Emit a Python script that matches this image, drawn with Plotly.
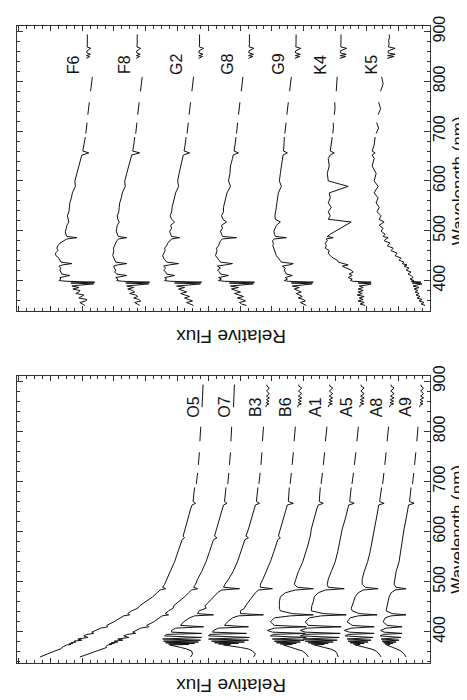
import plotly.graph_objects as go

# ---------------- data (wavelength in nm, flux in relative units) ----------------
WL_HOT = [350, 356, 362, 366, 369, 371, 373, 374, 375, 376, 377.1, 378.3, 379.8, 381.5, 383.5,
          385.8, 388.9, 392, 395, 397, 399.5, 403, 407.5, 410.2, 413, 420, 428, 432, 434, 436.5,
          442, 447.1, 452, 460, 470, 478, 483.5, 486.1, 489, 495, 505, 520, 540, 560, 575, 584,
          587.6, 591, 605, 625, 645, 653, 656.3, 660, 688]

WL_COOL = [350, 353, 356, 359, 362, 365, 368, 371, 374, 377, 380, 383, 386, 389, 391, 393.4, 395,
           396.8, 398.5, 400, 403, 406, 410.2, 413, 417, 421, 425, 429, 431.5, 434, 437, 441, 445,
           450, 455, 460, 465, 470, 475, 480, 483.5, 486.1, 488.5, 493, 499, 505, 511, 517.5, 523,
           530, 538, 547, 556, 566, 576, 589, 600, 615, 630, 645, 652, 656.3, 660, 672, 688]

WL_DASH = [[695, 706, 717], [733, 745, 758], [780, 795, 809]]

WL_RED_HOT = [848, 852, 854.5, 857, 860, 863, 866.5, 870, 875, 880, 886.3, 890, 893]
WL_RED_COOL = [846, 849.8, 851.5, 854.2, 857, 861, 866.2, 869, 875, 882, 888, 894]

# hot stars (lower panel)
O5_BLUE = [39.1, 38.4, 37.6, 37.0, 36.9, 36.7, 36.5, 36.4, 36.0, 36.2, 35.8, 36.0, 35.5, 35.7, 34.9,
           35.3, 34.3, 34.7, 34.4, 33.7, 33.9, 33.5, 33.0, 32.3, 32.4, 31.7, 31.0, 30.7, 30.1, 30.3,
           29.9, 29.3, 29.1, 28.5, 27.8, 27.35, 27.05, 26.5, 26.8, 26.6, 26.35, 26.05, 25.6, 25.25,
           25.0, 24.85, 24.6, 24.75, 24.55, 24.3, 24.0, 23.85, 23.5, 23.75, 23.6]
O7_BLUE = [35.1, 34.3, 33.5, 33.0, 32.4, 32.5, 32.3, 32.3, 31.9, 32.15, 31.65, 31.95, 31.3, 31.65, 30.8,
           31.3, 30.2, 30.7, 30.35, 29.5, 29.8, 29.5, 29.0, 28.2, 28.4, 27.7, 27.1, 26.85, 26.2, 26.55,
           26.2, 25.75, 25.7, 25.2, 24.6, 24.2, 23.9, 23.3, 23.7, 23.5, 23.3, 22.9, 22.45, 22.1, 21.85,
           21.7, 21.35, 21.6, 21.4, 21.1, 20.8, 20.7, 20.35, 20.6, 20.45]
B3_BLUE = [24.0, 23.8, 23.9, 24.4, 25.0, 25.4, 25.9, 26.1, 24.2, 26.2, 23.6, 26.5, 23.2, 26.7, 23.0,
           26.8, 22.9, 26.6, 26.4, 22.9, 25.9, 25.9, 25.5, 22.7, 25.0, 24.7, 24.1, 23.6, 21.7, 23.3,
           23.15, 22.45, 22.55, 22.15, 21.65, 21.3, 20.9, 19.1, 20.7, 20.55, 20.2, 19.75, 19.3, 18.95,
           18.7, 18.55, 18.2, 18.45, 18.2, 17.9, 17.6, 17.5, 17.1, 17.4, 17.25]
B6_BLUE = [17.7, 17.5, 17.8, 18.2, 19.0, 19.7, 20.4, 20.7, 20.0, 21.2, 19.2, 21.6, 18.6, 21.9, 18.2,
           22.2, 18.1, 22.2, 22.1, 18.4, 21.8, 21.7, 21.2, 18.2, 20.6, 20.3, 19.8, 19.2, 16.7, 19.0,
           19.0, 18.6, 18.5, 18.2, 17.85, 17.5, 17.2, 15.8, 17.0, 17.0, 16.75, 16.4, 16.0, 15.65,
           15.4, 15.25, 15.0, 15.2, 15.0, 14.7, 14.4, 14.3, 13.7, 14.2, 14.1]
A1_BLUE = [12.2, 12.4, 12.8, 13.4, 13.9, 14.2, 14.6, 14.7, 13.8, 15.0, 13.4, 15.4, 13.0, 15.6, 12.6,
           15.8, 12.4, 16.0, 15.7, 12.5, 15.8, 16.3, 15.6, 12.4, 15.6, 16.0, 15.6, 14.0, 11.7, 13.8,
           15.0, 15.1, 15.1, 15.1, 15.0, 14.5, 13.5, 11.7, 13.3, 13.6, 13.45, 13.2, 12.75, 12.4,
           12.2, 12.1, 12.05, 12.0, 11.9, 11.65, 11.35, 11.2, 10.7, 11.1, 11.0]
A5_BLUE = [9.2, 9.3, 9.5, 10.0, 10.6, 11.0, 11.4, 11.6, 10.6, 11.9, 10.2, 12.2, 9.7, 12.5, 9.3,
           12.7, 9.1, 13.0, 12.6, 9.0, 12.5, 13.0, 12.3, 8.9, 12.2, 12.5, 12.1, 10.9, 8.4, 10.7,
           11.9, 11.9, 11.85, 11.7, 11.6, 11.2, 10.5, 8.6, 10.2, 10.3, 10.2, 9.9, 9.5, 9.25,
           9.1, 9.0, 8.95, 8.9, 8.8, 8.5, 8.25, 8.15, 7.6, 8.05, 7.9]
A8_BLUE = [4.9, 5.1, 5.4, 5.9, 6.5, 6.9, 7.3, 7.5, 7.0, 7.7, 6.6, 8.0, 6.2, 8.2, 5.9,
           8.3, 5.7, 8.5, 8.2, 5.6, 8.1, 8.6, 7.9, 5.6, 7.8, 8.3, 8.0, 7.2, 5.3, 7.1,
           7.8, 7.9, 7.8, 7.65, 7.5, 7.2, 6.7, 5.2, 6.5, 6.8, 6.8, 6.6, 6.25, 6.0,
           5.85, 5.8, 5.75, 5.7, 5.6, 5.4, 5.2, 5.15, 4.6, 5.05, 4.85]
A9_BLUE = [2.4, 2.6, 2.9, 3.3, 3.7, 4.0, 4.25, 4.35, 4.0, 4.5, 3.7, 4.65, 3.4, 4.8, 3.1,
           4.9, 2.9, 5.0, 4.7, 2.8, 4.6, 4.95, 4.4, 2.8, 4.3, 4.7, 4.5, 3.9, 2.4, 3.8,
           4.4, 4.35, 4.3, 4.2, 4.1, 3.9, 3.5, 2.4, 3.4, 3.6, 3.55, 3.4, 3.1, 2.95,
           2.85, 2.8, 2.75, 2.7, 2.6, 2.4, 2.2, 2.15, 1.6, 2.05, 1.9]

O5_DASH = [23.42, 23.36, 23.3, 23.22, 23.17, 23.12, 23.07, 23.02, 22.98]
O7_DASH = [20.27, 20.22, 20.17, 20.1, 20.05, 20.0, 19.96, 19.92, 19.88]
B3_DASH = [17.15, 17.09, 17.03, 16.95, 16.9, 16.85, 16.8, 16.74, 16.69]
B6_DASH = [14.02, 13.96, 13.9, 13.82, 13.76, 13.7, 13.62, 13.56, 13.5]
A1_DASH = [10.92, 10.86, 10.78, 10.7, 10.63, 10.56, 10.48, 10.4, 10.33]
A5_DASH = [7.82, 7.74, 7.67, 7.58, 7.5, 7.43, 7.33, 7.25, 7.18]
A8_DASH = [4.75, 4.68, 4.62, 4.53, 4.47, 4.4, 4.3, 4.22, 4.15]
A9_DASH = [1.75, 1.69, 1.63, 1.55, 1.48, 1.42, 1.32, 1.25, 1.2]

O5_RED = [22.85, 22.84, 22.83, 22.82, 22.82, 22.81, 22.8, 22.79, 22.78, 22.77, 22.76, 22.75, 22.75]
O7_RED = [19.7, 19.7, 19.7, 19.68, 19.68, 19.66, 19.66, 19.65, 19.64, 19.63, 19.62, 19.6, 19.6]
B3_RED = [16.45, 16.42, 16.15, 16.42, 16.15, 16.4, 16.1, 16.4, 16.1, 16.38, 16.1, 16.35, 16.35]
B6_RED = [13.25, 13.22, 12.9, 13.22, 12.9, 13.2, 12.85, 13.2, 12.85, 13.18, 12.85, 13.15, 13.15]
A1_RED = [10.2, 10.15, 9.8, 10.15, 9.8, 10.12, 9.75, 10.1, 9.75, 10.08, 9.75, 10.05, 10.05]
A5_RED = [7.05, 7.0, 6.65, 7.0, 6.65, 6.98, 6.6, 6.95, 6.6, 6.93, 6.6, 6.9, 6.9]
A8_RED = [4.05, 4.0, 3.65, 4.0, 3.65, 3.98, 3.6, 3.95, 3.6, 3.93, 3.6, 3.9, 3.9]
A9_RED = [1.05, 1.0, 0.7, 1.0, 0.7, 0.98, 0.65, 0.95, 0.65, 0.93, 0.65, 0.9, 0.9]

# cool stars (upper panel)
F6_BLUE = [34.6, 34.9, 35.1, 34.5, 34.4, 35.2, 34.9, 34.7, 35.5, 35.2, 35.1, 35.8, 35.2, 35.9, 35.0,
           33.7, 36.0, 33.6, 36.4, 37.2, 37.0, 37.1, 36.1, 36.9, 37.0, 37.1, 37.0, 37.2, 36.8, 35.9,
           37.0, 37.1, 37.2, 37.5, 37.55, 37.3, 37.4, 37.3, 37.1, 36.7, 36.4, 35.4, 36.4, 36.5, 36.55,
           36.45, 36.4, 36.2, 36.3, 36.35, 36.2, 36.15, 36.1, 35.95, 35.85, 35.55, 35.6, 35.4, 35.2,
           35.0, 34.9, 34.2, 34.8, 34.7, 34.55]
F8_BLUE = [29.1, 29.4, 29.6, 29.0, 29.2, 29.7, 29.3, 29.5, 30.1, 29.6, 29.8, 30.3, 29.7, 30.4, 29.4,
           28.2, 30.5, 28.1, 30.8, 31.4, 31.3, 31.5, 30.4, 31.4, 31.6, 31.5, 31.65, 31.7, 31.3, 30.4,
           31.5, 31.6, 31.7, 31.8, 31.75, 31.7, 31.73, 31.6, 31.5, 31.4, 31.2, 30.4, 31.25, 31.35,
           31.45, 31.4, 31.35, 31.15, 31.3, 31.35, 31.2, 31.15, 31.1, 30.95, 30.85, 30.55, 30.6, 30.4,
           30.2, 30.0, 29.9, 29.1, 29.8, 29.7, 29.6]
G2_BLUE = [23.7, 24.1, 24.4, 23.8, 24.2, 24.6, 24.1, 24.5, 25.0, 24.4, 24.8, 25.2, 24.6, 25.4, 24.2,
           23.0, 25.6, 22.9, 26.0, 26.6, 26.4, 26.6, 25.6, 26.4, 26.5, 26.7, 26.5, 26.7, 26.1, 25.2,
           26.4, 26.6, 26.7, 26.8, 26.7, 26.55, 26.6, 26.4, 26.3, 26.1, 25.9, 25.1, 25.9, 26.0, 26.1,
           25.9, 26.0, 25.6, 25.9, 26.05, 25.9, 25.85, 25.75, 25.6, 25.5, 25.2, 25.3, 25.15, 25.0,
           24.8, 24.73, 24.1, 24.65, 24.55, 24.45]
G8_BLUE = [18.4, 18.9, 19.1, 18.5, 18.8, 19.3, 18.7, 19.2, 19.6, 19.0, 19.4, 19.9, 19.2, 20.0, 18.9,
           17.7, 20.1, 17.6, 20.6, 21.2, 20.9, 21.2, 20.2, 21.0, 21.1, 21.3, 21.0, 21.3, 20.5, 19.8,
           21.0, 21.2, 21.3, 21.5, 21.4, 21.35, 21.4, 21.2, 21.1, 21.0, 20.8, 19.4, 20.8, 20.9, 21.0,
           20.8, 20.9, 20.4, 20.75, 20.9, 20.7, 20.7, 20.6, 20.45, 20.35, 20.0, 20.2, 20.05, 20.0,
           19.8, 19.73, 19.2, 19.65, 19.55, 19.45]
G9_BLUE = [12.4, 12.8, 13.0, 12.5, 12.7, 13.2, 12.8, 13.1, 13.4, 12.9, 13.3, 13.6, 13.1, 13.8, 12.8,
           11.8, 13.9, 11.7, 14.2, 14.6, 14.3, 14.5, 13.8, 14.4, 14.5, 14.6, 14.5, 14.8, 14.1, 13.7,
           14.9, 15.1, 15.2, 15.4, 15.5, 15.6, 15.7, 15.75, 15.7, 15.8, 15.6, 14.4, 15.5, 15.6, 15.65,
           15.5, 15.4, 15.0, 15.5, 15.55, 15.45, 15.4, 15.35, 15.25, 15.2, 14.9, 15.1, 15.0, 14.9,
           14.8, 14.73, 14.3, 14.68, 14.64, 14.6]
K4_BLUE = [6.5, 7.0, 6.6, 7.2, 6.7, 7.1, 6.6, 7.3, 6.8, 7.2, 6.7, 7.2, 6.7, 7.1, 6.4,
           5.9, 7.2, 5.9, 7.7, 8.0, 7.8, 8.2, 7.8, 8.1, 7.7, 7.9, 8.4, 8.8, 8.2, 8.6,
           9.2, 9.3, 9.7, 10.0, 10.2, 10.1, 10.5, 10.4, 10.5, 10.3, 10.4, 9.7, 10.3, 10.0, 9.5,
           9.0, 8.5, 7.9, 10.2, 10.0, 10.2, 9.9, 10.2, 10.0, 10.1, 8.2, 10.2, 10.3, 10.1,
           10.2, 10.0, 9.6, 10.0, 9.9, 9.8]
K5_BLUE = [0.5, 0.9, 0.6, 1.1, 0.8, 1.3, 1.0, 1.4, 1.1, 1.5, 1.2, 1.6, 1.1, 1.7, 1.3,
           0.8, 1.8, 0.9, 1.9, 1.6, 2.0, 1.7, 1.9, 2.2, 1.9, 2.4, 2.1, 2.6, 2.3, 2.8,
           2.6, 3.1, 2.9, 3.5, 3.3, 3.9, 3.7, 4.3, 4.0, 4.6, 4.4, 4.2, 4.7, 4.5, 4.9,
           4.7, 5.1, 4.6, 5.1, 4.9, 5.3, 5.1, 5.4, 5.2, 5.6, 5.2, 5.6, 5.4, 5.8,
           5.6, 5.8, 5.5, 5.8, 5.6, 5.5]

F6_DASH = [34.5, 34.44, 34.38, 34.3, 34.22, 34.15, 34.02, 33.93, 33.85]
F8_DASH = [29.5, 29.44, 29.38, 29.3, 29.22, 29.15, 29.02, 28.93, 28.85]
G2_DASH = [24.35, 24.29, 24.23, 24.15, 24.07, 24.0, 23.87, 23.78, 23.7]
G8_DASH = [19.4, 19.34, 19.28, 19.2, 19.12, 19.05, 18.92, 18.83, 18.75]
G9_DASH = [14.55, 14.49, 14.43, 14.35, 14.27, 14.2, 14.07, 13.98, 13.9]
K4_DASH = [9.75, 9.68, 9.7, 9.6, 9.52, 9.55, 9.4, 9.35, 9.3]
K5_DASH = [5.4, 5.15, 5.35, 5.2, 4.95, 5.15, 4.95, 4.7, 4.85]

F6_RED = [34.45, 34.1, 34.43, 34.05, 34.4, 34.4, 34.0, 34.38, 34.35, 34.37, 34.32, 34.35]
F8_RED = [29.45, 29.1, 29.43, 29.05, 29.4, 29.4, 29.0, 29.38, 29.35, 29.37, 29.32, 29.35]
G2_RED = [23.2, 22.8, 23.18, 22.75, 23.15, 23.15, 22.7, 23.13, 23.1, 23.12, 23.07, 23.1]
G8_RED = [18.2, 17.75, 18.18, 17.7, 18.15, 18.15, 17.65, 18.13, 18.1, 18.12, 18.07, 18.1]
G9_RED = [13.55, 13.05, 13.5, 13.0, 13.48, 13.48, 12.95, 13.45, 13.43, 13.45, 13.4, 13.42]
K4_RED = [9.05, 8.45, 9.0, 8.4, 8.98, 8.98, 8.35, 8.95, 8.93, 8.95, 8.9, 8.92]
K5_RED = [4.3, 3.6, 4.25, 3.5, 4.2, 4.2, 3.5, 4.17, 4.1, 4.15, 4.05, 4.1]

HOT_LABELS = ["O5", "O7", "B3", "B6", "A1", "A5", "A8", "A9"]
HOT_LABEL_FLUX = [23.7, 20.6, 17.55, 14.55, 11.55, 8.45, 5.4, 2.45]
HOT_LABEL_WL = 848
COOL_LABELS = ["F6", "F8", "G2", "G8", "G9", "K4", "K5"]
COOL_LABEL_FLUX = [35.8, 30.6, 25.4, 20.3, 15.2, 11.0, 5.9]
COOL_LABEL_WL = 834

FLUX_RANGE = [41.4, 0]
WL_RANGE = [338, 911]

# ---------------- figure ----------------
HOT = [(O5_BLUE, O5_DASH, O5_RED), (O7_BLUE, O7_DASH, O7_RED), (B3_BLUE, B3_DASH, B3_RED),
       (B6_BLUE, B6_DASH, B6_RED), (A1_BLUE, A1_DASH, A1_RED), (A5_BLUE, A5_DASH, A5_RED),
       (A8_BLUE, A8_DASH, A8_RED), (A9_BLUE, A9_DASH, A9_RED)]
COOL = [(F6_BLUE, F6_DASH, F6_RED), (F8_BLUE, F8_DASH, F8_RED), (G2_BLUE, G2_DASH, G2_RED),
        (G8_BLUE, G8_DASH, G8_RED), (G9_BLUE, G9_DASH, G9_RED), (K4_BLUE, K4_DASH, K4_RED),
        (K5_BLUE, K5_DASH, K5_RED)]

LINE = dict(color="#111111", width=1)
fig = go.Figure()


def dash_xy(flux):
    xs, ys = [], []
    k = 0
    for piece in WL_DASH:
        for w in piece:
            xs.append(flux[k])
            ys.append(w)
            k += 1
        xs.append(None)
        ys.append(None)
    return xs, ys


def add_star(blue_wl, red_wl, arrays, xa, ya):
    blue, dash, red = arrays
    dx, dy = dash_xy(dash)
    for xs, ys in ((blue, blue_wl), (dx, dy), (red, red_wl)):
        fig.add_trace(go.Scatter(x=xs, y=ys, mode="lines", line=LINE, xaxis=xa, yaxis=ya,
                                 showlegend=False, hoverinfo="skip", connectgaps=False))


for arr in COOL:
    add_star(WL_COOL, WL_RED_COOL, arr, "x", "y")
for arr in HOT:
    add_star(WL_HOT, WL_RED_HOT, arr, "x2", "y2")

FONT = "Liberation Sans, Arial, Helvetica, sans-serif"
AX_COL = "#333333"

xaxis_style = dict(range=FLUX_RANGE, showticklabels=False, ticks="inside", ticklen=5,
                   tickcolor=AX_COL, tickwidth=1, tick0=0, dtick=3.17, showline=True,
                   linecolor=AX_COL, linewidth=1, mirror="ticks", showgrid=False, zeroline=False,
                   minor=dict(ticks="inside", ticklen=3, dtick=0.7925, tick0=0,
                              tickcolor=AX_COL, showgrid=False))
yaxis_style = dict(range=WL_RANGE, side="right", tick0=0, dtick=100, ticks="inside", ticklen=6,
                   tickcolor=AX_COL, tickwidth=1, tickangle=-90, ticklabelstandoff=-5,
                   tickfont=dict(family=FONT, size=16, color="#111111"),
                   showline=True, linecolor=AX_COL, linewidth=1, mirror="ticks",
                   showgrid=False, zeroline=False,
                   minor=dict(ticks="inside", ticklen=3, dtick=20, tick0=0,
                              tickcolor=AX_COL, showgrid=False))

TOP_DOMAIN = [0.5519, 1.0]
BOT_DOMAIN = [0.0, 0.4512]

fig.update_layout(
    width=467, height=700, autosize=False,
    margin=dict(l=8, r=45, t=10, b=45),
    paper_bgcolor="white", plot_bgcolor="white",
    font=dict(family=FONT, color="#111111"),
    xaxis=dict(domain=[0, 1], anchor="y", **xaxis_style),
    yaxis=dict(domain=TOP_DOMAIN, anchor="x", **yaxis_style),
    xaxis2=dict(domain=[0, 1], anchor="y2", **xaxis_style),
    yaxis2=dict(domain=BOT_DOMAIN, anchor="x2", **yaxis_style),
)

ann = []
for lab, fx in zip(COOL_LABELS, COOL_LABEL_FLUX):
    ann.append(dict(x=fx, y=COOL_LABEL_WL, xref="x", yref="y", text=lab, showarrow=False,
                    textangle=-90, xanchor="center", yanchor="middle",
                    font=dict(family=FONT, size=16, color="#111111")))
for lab, fx in zip(HOT_LABELS, HOT_LABEL_FLUX):
    ann.append(dict(x=fx, y=HOT_LABEL_WL, xref="x2", yref="y2", text=lab, showarrow=False,
                    textangle=-90, xanchor="center", yanchor="middle",
                    font=dict(family=FONT, size=16, color="#111111")))

TITLE_FONT = dict(family=FONT, size=17, color="#111111")
for ypos in (0.7566, 0.2093):
    ann.append(dict(x=1.068, y=ypos, xref="paper", yref="paper", text="Wavelength (nm)",
                    showarrow=False, textangle=-90, xanchor="center", yanchor="middle",
                    borderpad=0, font=TITLE_FONT))
for ypos in (0.5116, -0.0357):
    ann.append(dict(x=0.5169, y=ypos, xref="paper", yref="paper", text="Relative Flux",
                    showarrow=False, textangle=180, xanchor="center", yanchor="middle",
                    font=dict(family=FONT, size=19, color="#111111")))
fig.update_layout(annotations=ann)

fig.write_html("out.html")
